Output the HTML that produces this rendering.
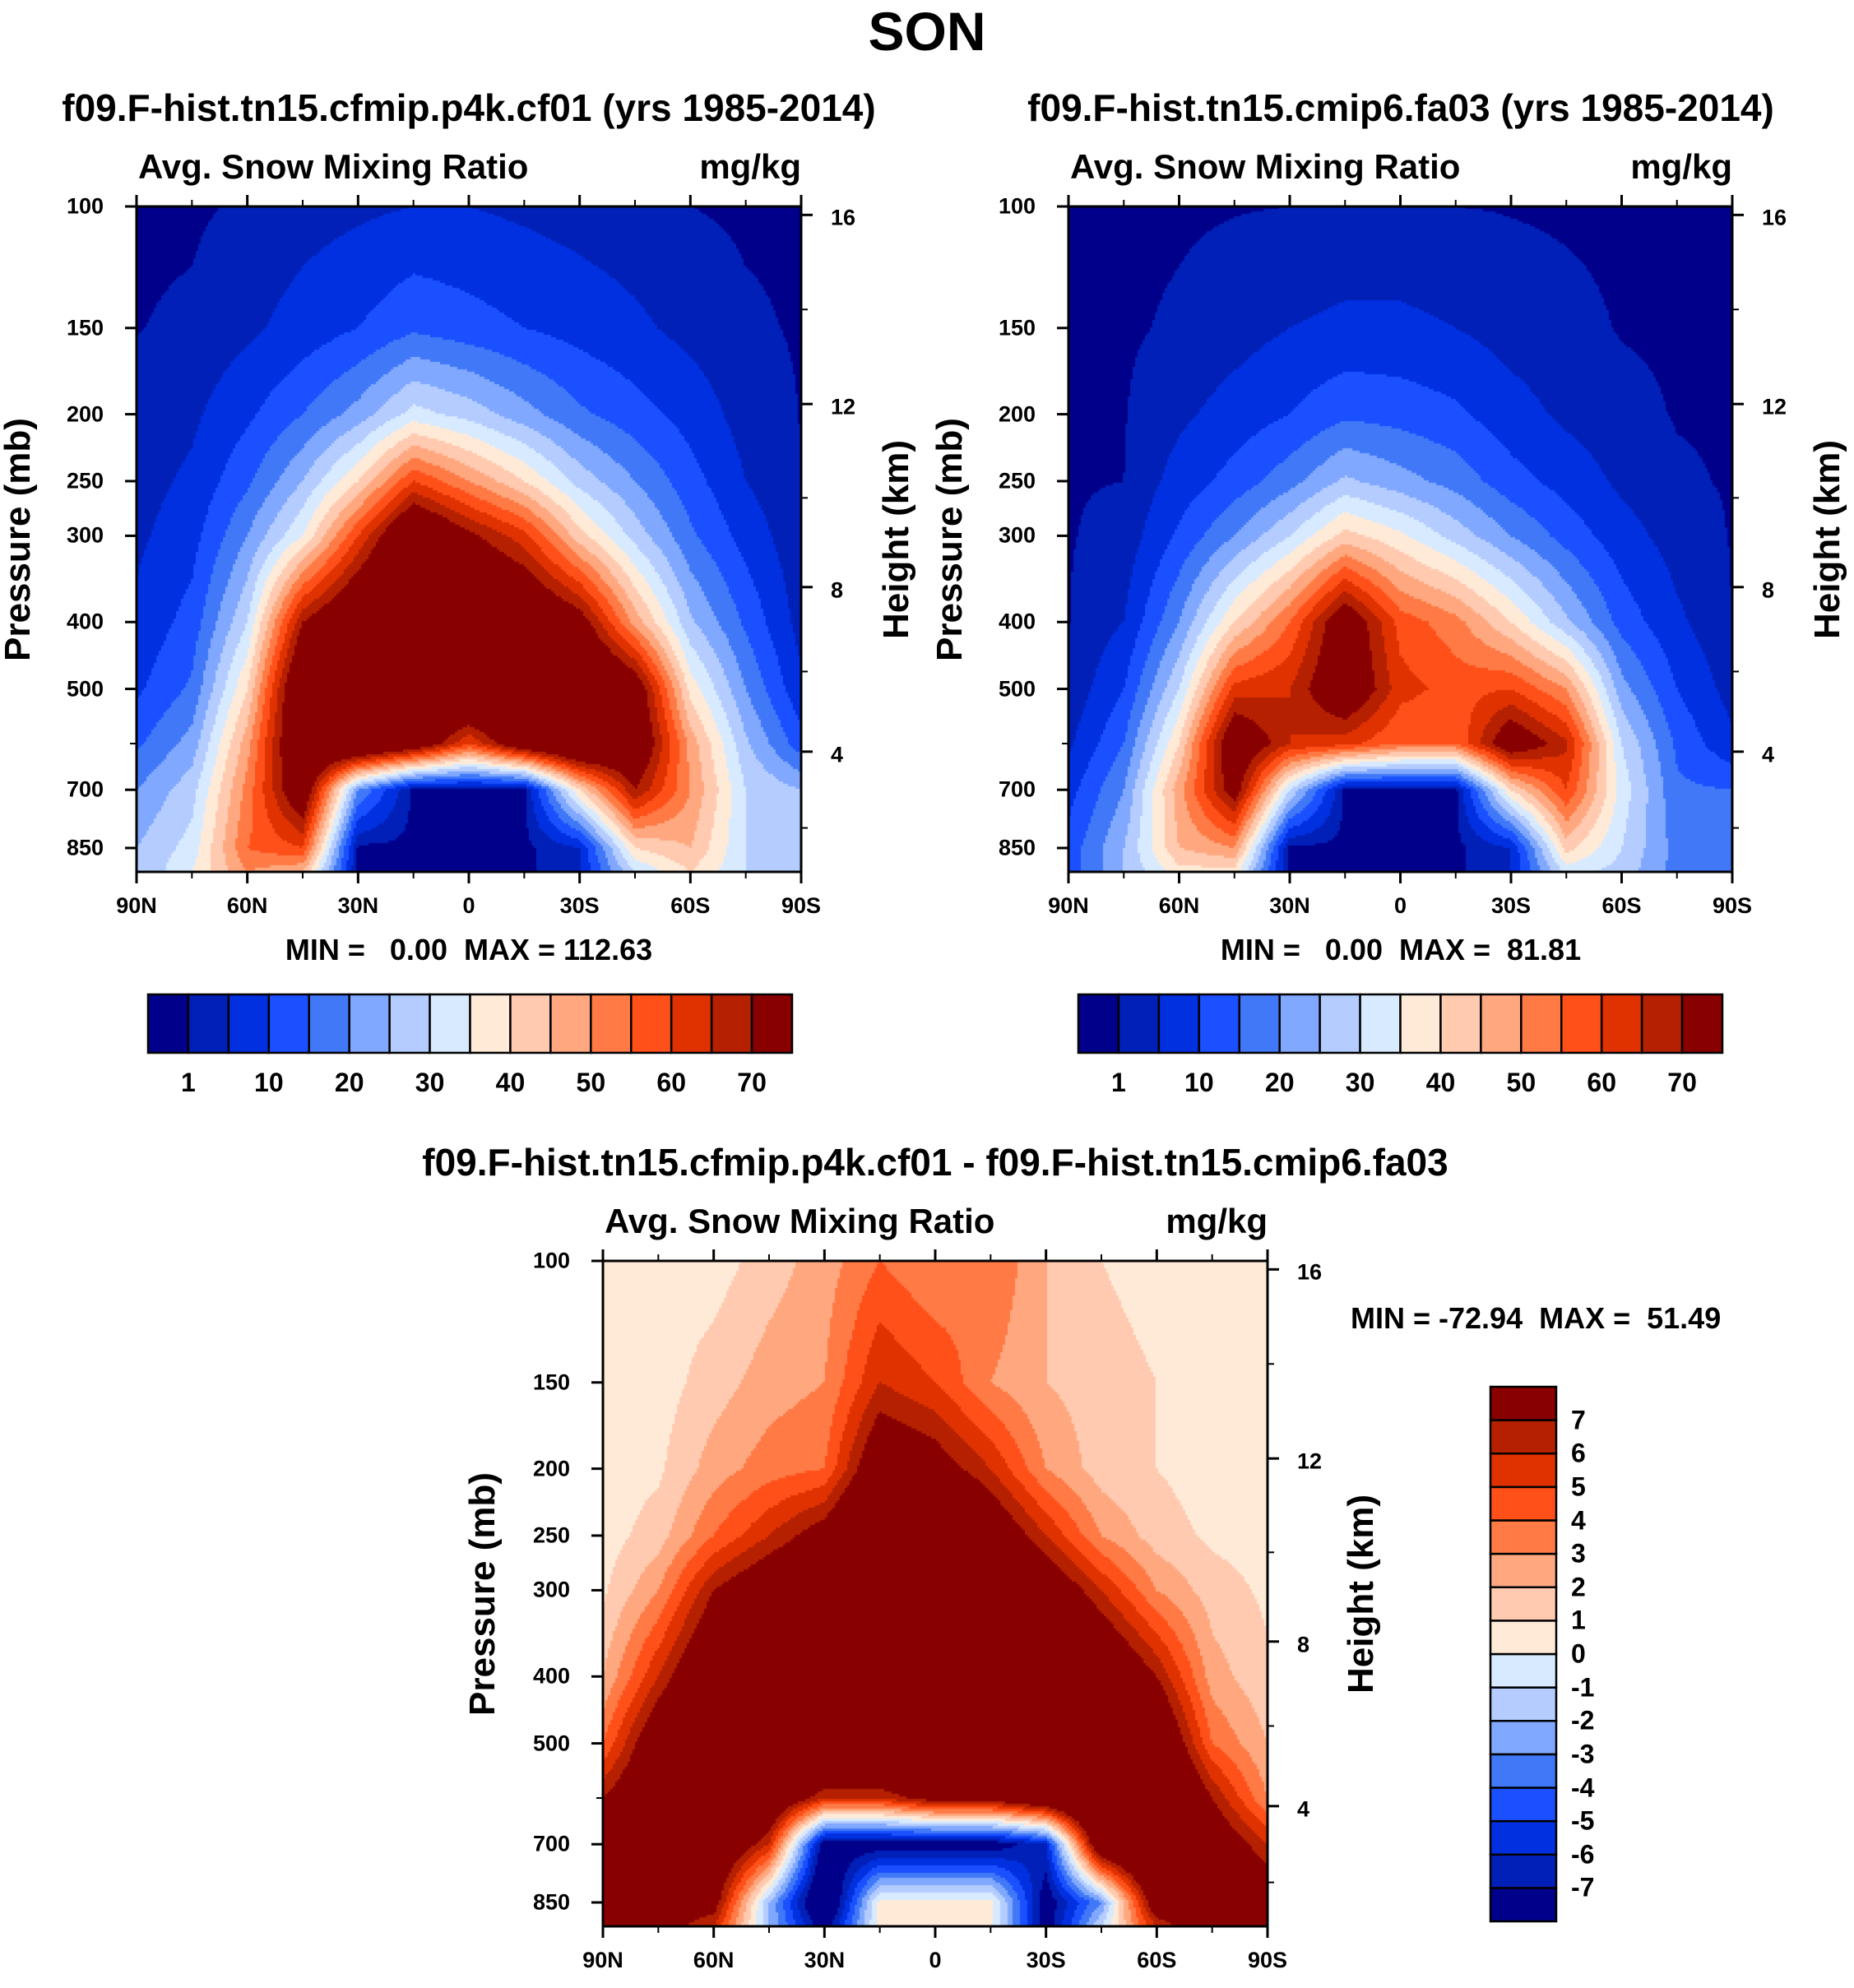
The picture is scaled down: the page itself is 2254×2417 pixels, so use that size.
<!DOCTYPE html>
<html><head><meta charset="utf-8">
<style>
body{margin:0;background:#fff;}
#root{position:relative;width:2254px;height:2417px;overflow:hidden;font-family:"Liberation Sans",sans-serif;font-weight:bold;color:#000;}
.t{position:absolute;white-space:nowrap;}
canvas{position:absolute;}
svg{position:absolute;left:0;top:0;}
</style></head>
<body>
<div id="root">
<div class="t" style="left:0;width:2254px;text-align:center;top:0px;font-size:66px;">SON</div>
</div>
<script>
// ---- data ----
const lats = [90,75,60,45,30,15,0,-15,-30,-45,-60,-75,-90];
const pres = [100,150,200,250,300,400,500,600,700,850,920];
const p4kField = [
 [0.5,0.9,2,3,4,6,9,14,20,25,25],
 [0.5,1.5,4,6,8,12,16,22,28,32,35],
 [1.5,4,9,14,20,30,40,48,52,55,50],
 [3,7,15,25,35,70,85,85,80,60,45],
 [4,10,22,40,60,85,90,90,20,0,0],
 [5,14,32,60,85,95,90,80,0,0,0],
 [5,12,28,50,72,90,90,60,0,0,0],
 [4,10,22,40,62,85,90,80,0,0,0],
 [3,8,16,28,42,75,90,90,40,5,5],
 [2,6,12,20,28,48,78,82,70,40,30],
 [1,3.5,8,12,16,26,38,48,50,45,40],
 [0.5,1.5,3,5,8,14,20,26,30,30,30],
 [0.5,0.7,0.9,1,1.5,3,6,12,25,30,25]
];
const fa03Field = [
 [0.3,0.5,0.8,0.8,0.8,0.9,1.5,4,8,12,12],
 [0.3,0.5,0.8,1,2,5,10,15,20,25,25],
 [0.5,1.5,4,7,11,20,30,40,48,45,38],
 [0.8,3,7,12,20,40,62,80,75,50,38],
 [1,5,10,18,30,55,65,65,30,0,0],
 [1.5,6,14,26,42,78,80,62,0,0,0],
 [1.5,6,13,22,36,58,62,55,0,0,0],
 [1,5,11,18,28,52,58,55,0,0,0],
 [0.8,3,7,12,20,40,60,78,40,5,5],
 [0.5,2,4,8,13,26,50,66,60,42,32],
 [0.3,0.8,2,4,7,13,22,30,33,30,28],
 [0.3,0.5,0.8,1.5,3,6,10,14,16,18,18],
 [0.3,0.5,0.6,0.7,0.8,1,3,6,15,20,18]
];
const diffField = [
 [0.5,0.5,0.5,0.5,0.8,2,4,7,9,9,9],
 [0.5,0.5,0.8,1.5,3,6,9,10,10,8,8],
 [0.5,1.5,2.5,4,7,10,12,12,10,8,6],
 [1.5,2.5,3.5,6,9,12,12,10,6,-2,-2],
 [2.5,3,4,8,10,12,12,6,-8,-10,-8],
 [4,6,9,12,12,12,12,6,-8,0.5,0.5],
 [3,5,8,12,12,12,12,8,-8,0.5,0.5],
 [4,3,6,9,12,12,12,8,-8,0.5,0.5],
 [2,2,3,6,9,12,12,10,-6,-8,-8],
 [1,1.5,1.5,3,6,10,12,12,10,-3,-1],
 [0.5,1,1,1.5,3,7,10,12,12,9,6],
 [0.5,0.5,0.5,0.8,1.5,2.5,4,7,9,9,9],
 [0.5,0.5,0.5,0.5,0.8,1.2,2,3,6,9,9]
];
const absLevels = [1,5,10,15,20,25,30,35,40,45,50,55,60,65,70];
const absLabels = ["1","10","20","30","40","50","60","70"];
const diffLevels = [-7,-6,-5,-4,-3,-2,-1,0,1,2,3,4,5,6,7];
const colors = ["#00008a","#0020b8","#0030e0","#1a50ff","#4078f8","#80a8ff","#b4ccff","#d8eaff","#ffead8","#ffcab0","#ffa880","#ff7a45","#ff5019","#e03200","#b52000","#880000"];
const pTicks = [100,150,200,250,300,400,500,700,850];
const pMinor = [600];
const zTicks = [4,8,12,16];
const latTicks = [90,60,30,0,-30,-60,-90];
const latLabels = ["90N","60N","30N","0","30S","60S","90S"];
const latMinor = [75,45,15,-15,-45,-75];

const root = document.getElementById('root');
const NS = 'http://www.w3.org/2000/svg';
const svg = document.createElementNS(NS,'svg');
svg.setAttribute('width','2254');svg.setAttribute('height','2417');



function txt(s,x,y,size,opts){
  const d=document.createElement('div');d.className='t';d.textContent=s;
  d.style.fontSize=size+'px';
  let tx='0',ty='0';
  if(opts.align==='center')tx='-50%';else if(opts.align==='right')tx='-100%';
  if(opts.valign==='middle')ty='-50%';
  d.style.left=x+'px';d.style.top=y+'px';
  d.style.transform='translate('+tx+','+ty+')'+(opts.rot?' rotate('+opts.rot+'deg)':'');
  
  
  root.appendChild(d);return d;
}
function line(x1,y1,x2,y2,w,name){
  const l=document.createElementNS(NS,'line');
  l.setAttribute('x1',x1);l.setAttribute('y1',y1);l.setAttribute('x2',x2);l.setAttribute('y2',y2);
  l.setAttribute('stroke','#000');l.setAttribute('stroke-width',w);
  
  
  svg.appendChild(l);
}
function stdP(zkm){const z=zkm*1000; if(z<=11000)return 1013.25*Math.pow(1-0.0065*z/288.15,5.2559); return 226.32*Math.exp(-(z-11000)/6341.6);}
const LOGTOP=2, LOGBOT=2.964;

function interp(field,lat,lp){
  let i=0; while(i<lats.length-2 && lat<lats[i+1]) i++;
  const ti=(lats[i]-lat)/(lats[i]-lats[i+1]);
  const lps=pres.map(p=>Math.log10(p));
  let j=0; while(j<lps.length-2 && lp>lps[j+1]) j++;
  let tj=(lp-lps[j])/(lps[j+1]-lps[j]); tj=Math.max(0,Math.min(1,tj));
  const a=field[i][j],b=field[i][j+1],c=field[i+1][j],d=field[i+1][j+1];
  return (a*(1-tj)+b*tj)*(1-ti)+(c*(1-tj)+d*tj)*ti;
}
function levelIdx(v,levels){let k=0;while(k<levels.length&&v>=levels[k])k++;return k;}

function panel(o){
  const X=o.x,Y=o.y,W=o.w,H=o.h;
  const xOf=lat=>X+(90-lat)/180*W;
  const yOf=p=>Y+(Math.log10(p)-LOGTOP)/(LOGBOT-LOGTOP)*H;
  const cv=document.createElement('canvas');cv.width=W;cv.height=H;
  cv.style.left=X+'px';cv.style.top=Y+'px';
  
  
  root.appendChild(cv);
  const ctx=cv.getContext('2d');const cs=3;
  for(let px=0;px<W;px+=cs){for(let py=0;py<H;py+=cs){
    const lat=90-(px+cs/2)/W*180;
    const lp=LOGTOP+(py+cs/2)/H*(LOGBOT-LOGTOP);
    const v=interp(o.field,lat,lp);
    ctx.fillStyle=colors[levelIdx(v,o.levels)];ctx.fillRect(px,py,cs,cs);
  }}
  const r=document.createElementNS(NS,'rect');r.setAttribute('x',X);r.setAttribute('y',Y);r.setAttribute('width',W);r.setAttribute('height',H);
  r.setAttribute('fill','none');r.setAttribute('stroke','#000');r.setAttribute('stroke-width','3');
  
  
  svg.appendChild(r);
  latTicks.forEach((lat,k)=>{const x=xOf(lat);
    line(x,Y+H,x,Y+H+14,3,o.id+'-x-tick');line(x,Y,x,Y-14,3,o.id+'-x-tick-top');
    txt(latLabels[k],x,Y+H+26,27,{align:'center',name:o.id+'-x-label'});});
  latMinor.forEach(lat=>{const x=xOf(lat);line(x,Y+H,x,Y+H+8,2,o.id+'-x-minor');line(x,Y,x,Y-8,2,o.id+'-x-minor-top');});
  pTicks.forEach(p=>{const y=yOf(p);line(X,y,X-14,y,3,o.id+'-y-tick');
    txt(String(p),X-40,y,27,{align:'right',valign:'middle',name:o.id+'-y-label'});});
  pMinor.forEach(p=>{const y=yOf(p);line(X,y,X-8,y,2,o.id+'-y-minor');});
  zTicks.forEach(z=>{const y=yOf(stdP(z));line(X+W,y,X+W+14,y,3,o.id+'-height-tick');
    txt(String(z),X+W+36,y+4,27,{valign:'middle',name:o.id+'-height-label'});});
  [2,6,10,14].forEach(z=>{const y=yOf(stdP(z));line(X+W,y,X+W+8,y,2,o.id+'-height-minor');});
  txt('Avg. Snow Mixing Ratio',X+2,Y-72,42,{name:o.id+'-variable-title'});
  txt('mg/kg',X+W,Y-72,42,{align:'right',name:o.id+'-units'});
  txt('Pressure (mb)',X-o.plab,Y+H/2,44,{align:'center',valign:'middle',rot:-90,name:o.id+'-y-axis-title'});
  txt('Height (km)',X+W+o.hlab,Y+H/2,44,{align:'center',valign:'middle',rot:-90,name:o.id+'-height-axis-title'});
}
function hbar(x,y,w,h,id){
  const n=colors.length,bw=w/n;
  colors.forEach((c,k)=>{const r=document.createElementNS(NS,'rect');
    r.setAttribute('x',x+k*bw);r.setAttribute('y',y);r.setAttribute('width',bw);r.setAttribute('height',h);
    r.setAttribute('fill',c);r.setAttribute('stroke','#000');r.setAttribute('stroke-width','2.5');
    
    
    svg.appendChild(r);});
  absLabels.forEach((s,k)=>{const bx=x+(1+2*k)*bw;txt(s,bx,y+h+18,32,{align:'center',name:id+'-label'});});
}
function vbar(x,y,w,h,id){
  const n=colors.length,bh=h/n;
  colors.forEach((c,k)=>{const r=document.createElementNS(NS,'rect');
    r.setAttribute('x',x);r.setAttribute('y',y+(n-1-k)*bh);r.setAttribute('width',w);r.setAttribute('height',bh);
    r.setAttribute('fill',c);r.setAttribute('stroke','#000');r.setAttribute('stroke-width','2.5');
    
    
    svg.appendChild(r);});
  diffLevels.forEach((v,k)=>{const by=y+(n-1-k)*bh;txt(String(v),x+w+18,by,32,{valign:'middle',name:id+'-label'});});
}

panel({id:'p4k',x:166,y:251,w:808,h:809,field:p4kField,levels:absLevels,plab:144,hlab:116});
panel({id:'fa03',x:1299,y:251,w:807,h:809,field:fa03Field,levels:absLevels,plab:144,hlab:116});
panel({id:'diff',x:733,y:1533,w:808,h:809,field:diffField,levels:diffLevels,plab:146,hlab:114});

txt('f09.F-hist.tn15.cfmip.p4k.cf01 (yrs 1985-2014)',570,104,46,{align:'center',name:'p4k-panel-title'});
txt('f09.F-hist.tn15.cmip6.fa03 (yrs 1985-2014)',1703,104,46,{align:'center',name:'fa03-panel-title'});
txt('f09.F-hist.tn15.cfmip.p4k.cf01 - f09.F-hist.tn15.cmip6.fa03',1137,1386,46,{align:'center',name:'diff-panel-title'});
txt('MIN =   0.00  MAX = 112.63',570,1134,36,{align:'center',name:'p4k-min-max'}).style.whiteSpace='pre';
txt('MIN =   0.00  MAX =  81.81',1703,1134,36,{align:'center',name:'fa03-min-max'}).style.whiteSpace='pre';
txt('MIN = -72.94  MAX =  51.49',1642,1582,36,{name:'diff-min-max'}).style.whiteSpace='pre';

hbar(180,1209,783,71,'p4k-colorbar');
hbar(1311,1209,783,71,'fa03-colorbar');
vbar(1812,1686,80,650,'diff-colorbar');
root.appendChild(svg);
</script>
</body></html>
